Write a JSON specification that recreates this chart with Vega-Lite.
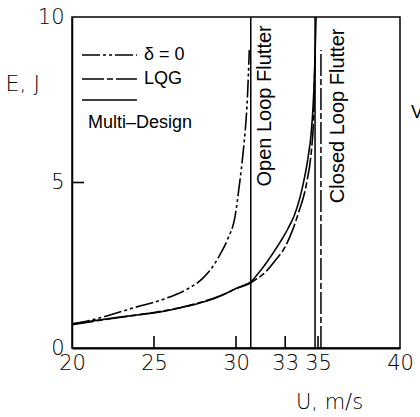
{
  "$schema": "https://vega.github.io/schema/vega-lite/v6.json",
  "width": 328,
  "height": 331,
  "autosize": "none",
  "padding": {"left": 72, "top": 17, "right": 20, "bottom": 69},
  "background": "white",
  "config": {
    "view": {"stroke": "black", "strokeWidth": 1.5},
    "font": "Liberation Sans"
  },
  "datasets": {
    "curves": [
      {"series": "δ = 0", "U": 20.0, "E": 0.72},
      {"series": "δ = 0", "U": 21.0, "E": 0.82},
      {"series": "δ = 0", "U": 22.0, "E": 0.95},
      {"series": "δ = 0", "U": 23.0, "E": 1.1},
      {"series": "δ = 0", "U": 24.0, "E": 1.25},
      {"series": "δ = 0", "U": 25.0, "E": 1.38},
      {"series": "δ = 0", "U": 26.0, "E": 1.55},
      {"series": "δ = 0", "U": 27.0, "E": 1.77},
      {"series": "δ = 0", "U": 28.0, "E": 2.12},
      {"series": "δ = 0", "U": 28.5, "E": 2.4},
      {"series": "δ = 0", "U": 29.0, "E": 2.8},
      {"series": "δ = 0", "U": 29.5, "E": 3.3},
      {"series": "δ = 0", "U": 29.94, "E": 3.97},
      {"series": "δ = 0", "U": 30.2, "E": 4.9},
      {"series": "δ = 0", "U": 30.45, "E": 5.98},
      {"series": "δ = 0", "U": 30.6, "E": 6.8},
      {"series": "δ = 0", "U": 30.7, "E": 7.6},
      {"series": "δ = 0", "U": 30.81, "E": 9.0},
      {"series": "LQG", "U": 20.0, "E": 0.7},
      {"series": "LQG", "U": 21.0, "E": 0.78},
      {"series": "LQG", "U": 22.0, "E": 0.86},
      {"series": "LQG", "U": 23.0, "E": 0.93},
      {"series": "LQG", "U": 24.0, "E": 1.0},
      {"series": "LQG", "U": 25.0, "E": 1.07},
      {"series": "LQG", "U": 26.0, "E": 1.16},
      {"series": "LQG", "U": 27.0, "E": 1.27},
      {"series": "LQG", "U": 28.0, "E": 1.4},
      {"series": "LQG", "U": 29.0, "E": 1.57},
      {"series": "LQG", "U": 30.0, "E": 1.79},
      {"series": "LQG", "U": 30.9, "E": 1.97},
      {"series": "LQG", "U": 31.3, "E": 2.1},
      {"series": "LQG", "U": 31.77, "E": 2.28},
      {"series": "LQG", "U": 32.4, "E": 2.65},
      {"series": "LQG", "U": 33.0, "E": 3.06},
      {"series": "LQG", "U": 33.4, "E": 3.5},
      {"series": "LQG", "U": 33.8, "E": 4.07},
      {"series": "LQG", "U": 34.3, "E": 4.97},
      {"series": "LQG", "U": 34.6, "E": 5.98},
      {"series": "LQG", "U": 34.72, "E": 6.8},
      {"series": "LQG", "U": 34.78, "E": 7.8},
      {"series": "LQG", "U": 34.82, "E": 9.0},
      {"series": "Multi-Design", "U": 20.0, "E": 0.73},
      {"series": "Multi-Design", "U": 21.0, "E": 0.8},
      {"series": "Multi-Design", "U": 22.0, "E": 0.87},
      {"series": "Multi-Design", "U": 23.0, "E": 0.94},
      {"series": "Multi-Design", "U": 24.0, "E": 1.0},
      {"series": "Multi-Design", "U": 25.0, "E": 1.06},
      {"series": "Multi-Design", "U": 26.0, "E": 1.15},
      {"series": "Multi-Design", "U": 27.0, "E": 1.26},
      {"series": "Multi-Design", "U": 28.0, "E": 1.39},
      {"series": "Multi-Design", "U": 29.0, "E": 1.56},
      {"series": "Multi-Design", "U": 29.6, "E": 1.7},
      {"series": "Multi-Design", "U": 30.0, "E": 1.8},
      {"series": "Multi-Design", "U": 30.5, "E": 1.9},
      {"series": "Multi-Design", "U": 30.9, "E": 2.0},
      {"series": "Multi-Design", "U": 31.3, "E": 2.22},
      {"series": "Multi-Design", "U": 31.77, "E": 2.52},
      {"series": "Multi-Design", "U": 32.3, "E": 2.9},
      {"series": "Multi-Design", "U": 32.79, "E": 3.28},
      {"series": "Multi-Design", "U": 33.2, "E": 3.64},
      {"series": "Multi-Design", "U": 33.6, "E": 4.07},
      {"series": "Multi-Design", "U": 34.1, "E": 4.97},
      {"series": "Multi-Design", "U": 34.4, "E": 5.78},
      {"series": "Multi-Design", "U": 34.6, "E": 6.59},
      {"series": "Multi-Design", "U": 34.72, "E": 7.5},
      {"series": "Multi-Design", "U": 34.8, "E": 8.5},
      {"series": "Multi-Design", "U": 34.88, "E": 10.0}
    ],
    "vlines": [
      {"series": "Flutter boundary", "U": 30.9, "E": 0, "E2": 10},
      {"series": "Flutter boundary", "U": 34.82, "E": 0, "E2": 10},
      {"series": "LQG", "U": 35.18, "E": 0, "E2": 9.0}
    ],
    "xTicks": [
      {"U": 25, "E": 0, "E2": 0.36},
      {"U": 30, "E": 0, "E2": 0.36},
      {"U": 33, "E": 0, "E2": 0.36},
      {"U": 35, "E": 0, "E2": 0.36}
    ],
    "yTicks": [
      {"U": 20, "U2": 20.73, "E": 5}
    ],
    "legendLines": [
      {"series": "δ = 0", "U": 20.61, "U2": 23.96, "E": 8.85},
      {"series": "LQG", "U": 20.61, "U2": 23.96, "E": 8.13},
      {"series": "Multi-Design", "U": 20.61, "U2": 23.96, "E": 7.49}
    ],
    "legendText": [
      {"label": "δ = 0", "U": 24.39, "E": 8.85},
      {"label": "LQG", "U": 24.39, "E": 8.13},
      {"label": "Multi–Design", "U": 20.98, "E": 6.8},
      {"label": "V", "U": 40.67, "E": 7.1}
    ],
    "rotText": [
      {"label": "Open Loop Flutter", "U": 31.77, "E": 9.75},
      {"label": "Closed Loop Flutter", "U": 36.22, "E": 9.65}
    ]
  },
  "layer": [
    {
      "data": {"name": "curves"},
      "mark": {"type": "line", "color": "black", "strokeWidth": 1.6, "interpolate": "monotone"},
      "encoding": {
        "x": {
          "field": "U", "type": "quantitative",
          "scale": {"domain": [20, 40], "nice": false, "zero": false},
          "axis": {
            "values": [20, 25, 30, 33, 35, 40],
            "grid": false,
            "ticks": false,
            "domainColor": "black",
            "domainWidth": 2,
            "labelFont": "DejaVu Sans",
            "labelFontSize": 21,
            "labelFontWeight": 200,
            "labelColor": "black",
            "labelPadding": 4,
            "labelFlush": false,
            "title": "U, m/s",
            "titleFont": "DejaVu Sans",
            "titleFontSize": 21,
            "titleFontWeight": 200,
            "titleColor": "black",
            "titleAlign": "center",
            "titleBaseline": "middle",
            "titleX": 257,
            "titleY": 54
          }
        },
        "y": {
          "field": "E", "type": "quantitative",
          "scale": {"domain": [0, 10], "nice": false},
          "axis": {
            "values": [0, 5, 10],
            "grid": false,
            "ticks": false,
            "domainColor": "black",
            "domainWidth": 1.5,
            "labelFont": "DejaVu Sans",
            "labelFontSize": 21,
            "labelFontWeight": 200,
            "labelColor": "black",
            "labelPadding": 8,
            "labelFlush": false,
            "title": "E, J",
            "titleFont": "DejaVu Sans",
            "titleFontSize": 22,
            "titleFontWeight": 200,
            "titleColor": "black",
            "titleAngle": 0,
            "titleAlign": "left",
            "titleBaseline": "middle",
            "titleX": -67,
            "titleY": 66
          }
        },
        "detail": {"field": "series"},
        "strokeDash": {
          "field": "series", "type": "nominal",
          "scale": {"domain": ["δ = 0", "LQG", "Multi-Design", "Flutter boundary"], "range": [[18, 3, 3, 3, 3, 3], [22, 3, 6, 3], [1, 0], [1, 0]]},
          "legend": null
        }
      }
    },
    {
      "data": {"name": "vlines"},
      "mark": {"type": "rule", "color": "black", "strokeWidth": 1.5},
      "encoding": {
        "x": {"field": "U", "type": "quantitative"},
        "y": {"field": "E", "type": "quantitative"},
        "y2": {"field": "E2"},
        "strokeDash": {
          "field": "series", "type": "nominal",
          "scale": {"domain": ["δ = 0", "LQG", "Multi-Design", "Flutter boundary"], "range": [[18, 3, 3, 3, 3, 3], [22, 3, 6, 3], [1, 0], [1, 0]]},
          "legend": null
        }
      }
    },
    {
      "data": {"name": "xTicks"},
      "mark": {"type": "rule", "color": "black", "strokeWidth": 1.6},
      "encoding": {
        "x": {"field": "U", "type": "quantitative"},
        "y": {"field": "E", "type": "quantitative"},
        "y2": {"field": "E2"}
      }
    },
    {
      "data": {"name": "yTicks"},
      "mark": {"type": "rule", "color": "black", "strokeWidth": 1.6},
      "encoding": {
        "x": {"field": "U", "type": "quantitative"},
        "x2": {"field": "U2"},
        "y": {"field": "E", "type": "quantitative"}
      }
    },
    {
      "data": {"name": "legendLines"},
      "mark": {"type": "rule", "color": "black", "strokeWidth": 1.5},
      "encoding": {
        "x": {"field": "U", "type": "quantitative"},
        "x2": {"field": "U2"},
        "y": {"field": "E", "type": "quantitative"},
        "strokeDash": {
          "field": "series", "type": "nominal",
          "scale": {"domain": ["δ = 0", "LQG", "Multi-Design", "Flutter boundary"], "range": [[18, 3, 3, 3, 3, 3], [22, 3, 6, 3], [1, 0], [1, 0]]},
          "legend": null
        }
      }
    },
    {
      "data": {"name": "legendText"},
      "mark": {"type": "text", "align": "left", "baseline": "middle", "fontSize": 18, "color": "black", "font": "Liberation Sans"},
      "encoding": {
        "x": {"field": "U", "type": "quantitative"},
        "y": {"field": "E", "type": "quantitative"},
        "text": {"field": "label"}
      }
    },
    {
      "data": {"name": "rotText"},
      "mark": {"type": "text", "align": "right", "baseline": "middle", "angle": 270, "fontSize": 20, "color": "black", "font": "Liberation Sans"},
      "encoding": {
        "x": {"field": "U", "type": "quantitative"},
        "y": {"field": "E", "type": "quantitative"},
        "text": {"field": "label"}
      }
    }
  ]
}
